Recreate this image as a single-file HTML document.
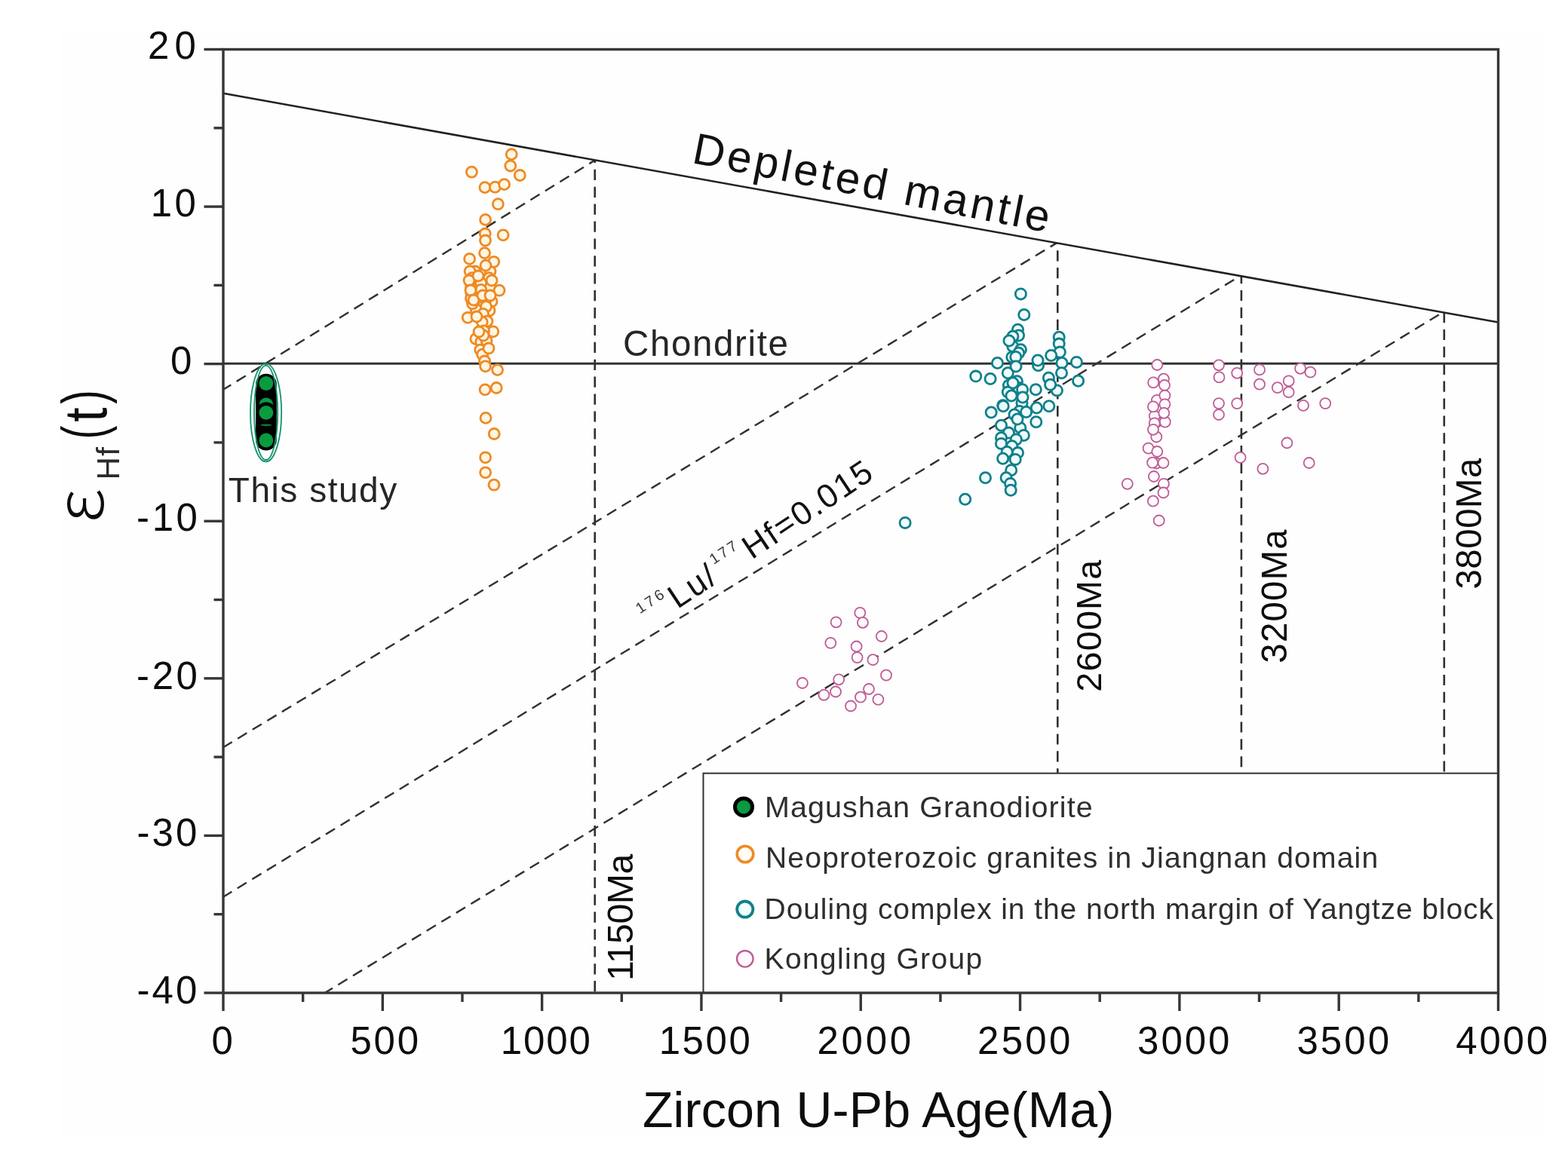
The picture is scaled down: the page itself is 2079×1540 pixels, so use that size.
<!DOCTYPE html><html><head><meta charset="utf-8"><title>Hf isotope diagram</title><style>html,body{margin:0;padding:0;background:#fff;}svg{display:block;}</style></head><body>
<svg width="2079" height="1540" viewBox="0 0 2079 1540" font-family="Liberation Sans, Arial, sans-serif">
<rect x="0" y="0" width="2079" height="1540" fill="#ffffff"/>
<rect x="81" y="42" width="1969" height="1467" fill="#fefefe"/>
<line x1="296" y1="516.8" x2="788.7" y2="212.6" stroke="#303030" stroke-width="2.4" stroke-dasharray="14.2 8.7" stroke-dashoffset="2.1"/>
<line x1="296" y1="991.3" x2="1400.5" y2="322.6" stroke="#303030" stroke-width="2.4" stroke-dasharray="14.2 8.7" stroke-dashoffset="0.5"/>
<line x1="296" y1="1189.7" x2="1644" y2="366.2" stroke="#303030" stroke-width="2.4" stroke-dasharray="14.2 8.7" stroke-dashoffset="0.9"/>
<line x1="430.6" y1="1317" x2="1912.5" y2="414.6" stroke="#303030" stroke-width="2.4" stroke-dasharray="14.2 8.7" stroke-dashoffset="2.1"/>
<line x1="788.7" y1="212.6" x2="788.7" y2="1317" stroke="#303030" stroke-width="2.6" stroke-dasharray="14.2 8.7" stroke-dashoffset="10.7"/>
<line x1="1402.3" y1="322.6" x2="1402.3" y2="1025.7" stroke="#303030" stroke-width="2.6" stroke-dasharray="14.2 8.7" stroke-dashoffset="13.3"/>
<line x1="1645.9" y1="366.3" x2="1645.9" y2="1025.7" stroke="#303030" stroke-width="2.6" stroke-dasharray="14.2 8.7" stroke-dashoffset="4.3"/>
<line x1="1914.8" y1="414.6" x2="1914.8" y2="1025.7" stroke="#303030" stroke-width="2.6" stroke-dasharray="14.2 8.7" stroke-dashoffset="0.6"/>
<line x1="296.0" y1="123.8" x2="1986.5" y2="427.5" stroke="#222" stroke-width="2.6"/>
<line x1="296.0" y1="482.3" x2="1986.5" y2="482.3" stroke="#333" stroke-width="3"/>
<circle cx="625.4" cy="228.2" r="7.0" stroke="#ee8a26" stroke-width="2.8" fill="#fff6e2"/>
<circle cx="678.2" cy="204.6" r="7.0" stroke="#ee8a26" stroke-width="2.8" fill="#fff6e2"/>
<circle cx="676.8" cy="220" r="7.0" stroke="#ee8a26" stroke-width="2.8" fill="#fff6e2"/>
<circle cx="689.3" cy="232.5" r="7.0" stroke="#ee8a26" stroke-width="2.8" fill="#fff6e2"/>
<circle cx="642.9" cy="248.6" r="7.0" stroke="#ee8a26" stroke-width="2.8" fill="#fff6e2"/>
<circle cx="656.4" cy="248.2" r="7.0" stroke="#ee8a26" stroke-width="2.8" fill="#fff6e2"/>
<circle cx="668.6" cy="244.6" r="7.0" stroke="#ee8a26" stroke-width="2.8" fill="#fff6e2"/>
<circle cx="660.4" cy="270.7" r="7.0" stroke="#ee8a26" stroke-width="2.8" fill="#fff6e2"/>
<circle cx="643.6" cy="291.4" r="7.0" stroke="#ee8a26" stroke-width="2.8" fill="#fff6e2"/>
<circle cx="667.1" cy="311.8" r="7.0" stroke="#ee8a26" stroke-width="2.8" fill="#fff6e2"/>
<circle cx="643.2" cy="310" r="7.0" stroke="#ee8a26" stroke-width="2.8" fill="#fff6e2"/>
<circle cx="643.5" cy="319" r="7.0" stroke="#ee8a26" stroke-width="2.8" fill="#fff6e2"/>
<circle cx="624" cy="375" r="7.0" stroke="#ee8a26" stroke-width="2.8" fill="#fff6e2"/>
<circle cx="625" cy="389" r="7.0" stroke="#ee8a26" stroke-width="2.8" fill="#fff6e2"/>
<circle cx="630" cy="360" r="7.0" stroke="#ee8a26" stroke-width="2.8" fill="#fff6e2"/>
<circle cx="633" cy="395" r="7.0" stroke="#ee8a26" stroke-width="2.8" fill="#fff6e2"/>
<circle cx="650" cy="360" r="7.0" stroke="#ee8a26" stroke-width="2.8" fill="#fff6e2"/>
<circle cx="650" cy="380" r="7.0" stroke="#ee8a26" stroke-width="2.8" fill="#fff6e2"/>
<circle cx="652" cy="400" r="7.0" stroke="#ee8a26" stroke-width="2.8" fill="#fff6e2"/>
<circle cx="649" cy="412" r="7.0" stroke="#ee8a26" stroke-width="2.8" fill="#fff6e2"/>
<circle cx="631" cy="410" r="7.0" stroke="#ee8a26" stroke-width="2.8" fill="#fff6e2"/>
<circle cx="628" cy="380" r="7.0" stroke="#ee8a26" stroke-width="2.8" fill="#fff6e2"/>
<circle cx="642.6" cy="335.6" r="7.0" stroke="#ee8a26" stroke-width="2.8" fill="#fff6e2"/>
<circle cx="622.6" cy="343.4" r="7.0" stroke="#ee8a26" stroke-width="2.8" fill="#fff6e2"/>
<circle cx="654.8" cy="347.3" r="7.0" stroke="#ee8a26" stroke-width="2.8" fill="#fff6e2"/>
<circle cx="644" cy="352.1" r="7.0" stroke="#ee8a26" stroke-width="2.8" fill="#fff6e2"/>
<circle cx="623.1" cy="359.9" r="7.0" stroke="#ee8a26" stroke-width="2.8" fill="#fff6e2"/>
<circle cx="626" cy="368.7" r="7.0" stroke="#ee8a26" stroke-width="2.8" fill="#fff6e2"/>
<circle cx="648.4" cy="368.7" r="7.0" stroke="#ee8a26" stroke-width="2.8" fill="#fff6e2"/>
<circle cx="637.7" cy="375.5" r="7.0" stroke="#ee8a26" stroke-width="2.8" fill="#fff6e2"/>
<circle cx="637.7" cy="384.3" r="7.0" stroke="#ee8a26" stroke-width="2.8" fill="#fff6e2"/>
<circle cx="662" cy="385.2" r="7.0" stroke="#ee8a26" stroke-width="2.8" fill="#fff6e2"/>
<circle cx="625" cy="390.1" r="7.0" stroke="#ee8a26" stroke-width="2.8" fill="#fff6e2"/>
<circle cx="644.5" cy="396.9" r="7.0" stroke="#ee8a26" stroke-width="2.8" fill="#fff6e2"/>
<circle cx="626.5" cy="402.8" r="7.0" stroke="#ee8a26" stroke-width="2.8" fill="#fff6e2"/>
<circle cx="624.5" cy="382" r="7.0" stroke="#ee8a26" stroke-width="2.8" fill="#fff6e2"/>
<circle cx="624.5" cy="396" r="7.0" stroke="#ee8a26" stroke-width="2.8" fill="#fff6e2"/>
<circle cx="644.5" cy="406.7" r="7.0" stroke="#ee8a26" stroke-width="2.8" fill="#fff6e2"/>
<circle cx="620.2" cy="421.3" r="7.0" stroke="#ee8a26" stroke-width="2.8" fill="#fff6e2"/>
<circle cx="640.6" cy="416.4" r="7.0" stroke="#ee8a26" stroke-width="2.8" fill="#fff6e2"/>
<circle cx="646" cy="426.1" r="7.0" stroke="#ee8a26" stroke-width="2.8" fill="#fff6e2"/>
<circle cx="639.2" cy="427.1" r="7.0" stroke="#ee8a26" stroke-width="2.8" fill="#fff6e2"/>
<circle cx="653.8" cy="439.8" r="7.0" stroke="#ee8a26" stroke-width="2.8" fill="#fff6e2"/>
<circle cx="641.6" cy="438.8" r="7.0" stroke="#ee8a26" stroke-width="2.8" fill="#fff6e2"/>
<circle cx="630.9" cy="449.5" r="7.0" stroke="#ee8a26" stroke-width="2.8" fill="#fff6e2"/>
<circle cx="637.7" cy="453.4" r="7.0" stroke="#ee8a26" stroke-width="2.8" fill="#fff6e2"/>
<circle cx="645" cy="452" r="7.0" stroke="#ee8a26" stroke-width="2.8" fill="#fff6e2"/>
<circle cx="636.7" cy="464.1" r="7.0" stroke="#ee8a26" stroke-width="2.8" fill="#fff6e2"/>
<circle cx="639.7" cy="470.2" r="7.0" stroke="#ee8a26" stroke-width="2.8" fill="#fff6e2"/>
<circle cx="642.6" cy="479" r="7.0" stroke="#ee8a26" stroke-width="2.8" fill="#fff6e2"/>
<circle cx="643.6" cy="485.8" r="7.0" stroke="#ee8a26" stroke-width="2.8" fill="#fff6e2"/>
<circle cx="659.6" cy="490.6" r="7.0" stroke="#ee8a26" stroke-width="2.8" fill="#fff6e2"/>
<circle cx="643.1" cy="516.9" r="7.0" stroke="#ee8a26" stroke-width="2.8" fill="#fff6e2"/>
<circle cx="658.2" cy="514.5" r="7.0" stroke="#ee8a26" stroke-width="2.8" fill="#fff6e2"/>
<circle cx="644" cy="554.4" r="7.0" stroke="#ee8a26" stroke-width="2.8" fill="#fff6e2"/>
<circle cx="655.2" cy="575.5" r="7.0" stroke="#ee8a26" stroke-width="2.8" fill="#fff6e2"/>
<circle cx="643.6" cy="606.8" r="7.0" stroke="#ee8a26" stroke-width="2.8" fill="#fff6e2"/>
<circle cx="643.6" cy="626.8" r="7.0" stroke="#ee8a26" stroke-width="2.8" fill="#fff6e2"/>
<circle cx="655" cy="643.2" r="7.0" stroke="#ee8a26" stroke-width="2.8" fill="#fff6e2"/>
<circle cx="622" cy="372" r="7.0" stroke="#ee8a26" stroke-width="2.8" fill="#fff6e2"/>
<circle cx="624" cy="385" r="7.0" stroke="#ee8a26" stroke-width="2.8" fill="#fff6e2"/>
<circle cx="628" cy="398" r="7.0" stroke="#ee8a26" stroke-width="2.8" fill="#fff6e2"/>
<circle cx="634" cy="366" r="7.0" stroke="#ee8a26" stroke-width="2.8" fill="#fff6e2"/>
<circle cx="640" cy="392" r="7.0" stroke="#ee8a26" stroke-width="2.8" fill="#fff6e2"/>
<circle cx="652" cy="372" r="7.0" stroke="#ee8a26" stroke-width="2.8" fill="#fff6e2"/>
<circle cx="650" cy="392" r="7.0" stroke="#ee8a26" stroke-width="2.8" fill="#fff6e2"/>
<circle cx="632" cy="420" r="7.0" stroke="#ee8a26" stroke-width="2.8" fill="#fff6e2"/>
<circle cx="641" cy="445" r="7.0" stroke="#ee8a26" stroke-width="2.8" fill="#fff6e2"/>
<circle cx="648" cy="462" r="7.0" stroke="#ee8a26" stroke-width="2.8" fill="#fff6e2"/>
<circle cx="635" cy="440" r="7.0" stroke="#ee8a26" stroke-width="2.8" fill="#fff6e2"/>
<circle cx="1353.4" cy="389.9" r="7.1" stroke="#10808a" stroke-width="2.8" fill="#f0fcfc"/>
<circle cx="1357.8" cy="417.5" r="7.1" stroke="#10808a" stroke-width="2.8" fill="#f0fcfc"/>
<circle cx="1349.5" cy="437.3" r="7.1" stroke="#10808a" stroke-width="2.8" fill="#f0fcfc"/>
<circle cx="1350.6" cy="445" r="7.1" stroke="#10808a" stroke-width="2.8" fill="#f0fcfc"/>
<circle cx="1342.9" cy="446.2" r="7.1" stroke="#10808a" stroke-width="2.8" fill="#f0fcfc"/>
<circle cx="1342.9" cy="459.4" r="7.1" stroke="#10808a" stroke-width="2.8" fill="#f0fcfc"/>
<circle cx="1353.4" cy="463.8" r="7.1" stroke="#10808a" stroke-width="2.8" fill="#f0fcfc"/>
<circle cx="1350.6" cy="468.2" r="7.1" stroke="#10808a" stroke-width="2.8" fill="#f0fcfc"/>
<circle cx="1341.8" cy="473.8" r="7.1" stroke="#10808a" stroke-width="2.8" fill="#f0fcfc"/>
<circle cx="1404.2" cy="447.3" r="7.1" stroke="#10808a" stroke-width="2.8" fill="#f0fcfc"/>
<circle cx="1404.2" cy="456.1" r="7.1" stroke="#10808a" stroke-width="2.8" fill="#f0fcfc"/>
<circle cx="1405.3" cy="467.1" r="7.1" stroke="#10808a" stroke-width="2.8" fill="#f0fcfc"/>
<circle cx="1393.7" cy="471.5" r="7.1" stroke="#10808a" stroke-width="2.8" fill="#f0fcfc"/>
<circle cx="1322.5" cy="481.5" r="7.1" stroke="#10808a" stroke-width="2.8" fill="#f0fcfc"/>
<circle cx="1376.6" cy="484.8" r="7.1" stroke="#10808a" stroke-width="2.8" fill="#f0fcfc"/>
<circle cx="1408" cy="481.5" r="7.1" stroke="#10808a" stroke-width="2.8" fill="#f0fcfc"/>
<circle cx="1427.4" cy="480.4" r="7.1" stroke="#10808a" stroke-width="2.8" fill="#f0fcfc"/>
<circle cx="1293.8" cy="499.1" r="7.1" stroke="#10808a" stroke-width="2.8" fill="#f0fcfc"/>
<circle cx="1313.1" cy="502.5" r="7.1" stroke="#10808a" stroke-width="2.8" fill="#f0fcfc"/>
<circle cx="1336.3" cy="494.7" r="7.1" stroke="#10808a" stroke-width="2.8" fill="#f0fcfc"/>
<circle cx="1407.5" cy="494.7" r="7.1" stroke="#10808a" stroke-width="2.8" fill="#f0fcfc"/>
<circle cx="1390.4" cy="501.3" r="7.1" stroke="#10808a" stroke-width="2.8" fill="#f0fcfc"/>
<circle cx="1429.6" cy="505.2" r="7.1" stroke="#10808a" stroke-width="2.8" fill="#f0fcfc"/>
<circle cx="1348.4" cy="505.8" r="7.1" stroke="#10808a" stroke-width="2.8" fill="#f0fcfc"/>
<circle cx="1337.4" cy="511.3" r="7.1" stroke="#10808a" stroke-width="2.8" fill="#f0fcfc"/>
<circle cx="1350.6" cy="514.6" r="7.1" stroke="#10808a" stroke-width="2.8" fill="#f0fcfc"/>
<circle cx="1373.3" cy="516.8" r="7.1" stroke="#10808a" stroke-width="2.8" fill="#f0fcfc"/>
<circle cx="1401.4" cy="517.9" r="7.1" stroke="#10808a" stroke-width="2.8" fill="#f0fcfc"/>
<circle cx="1336.3" cy="520.1" r="7.1" stroke="#10808a" stroke-width="2.8" fill="#f0fcfc"/>
<circle cx="1355.6" cy="516.8" r="7.1" stroke="#10808a" stroke-width="2.8" fill="#f0fcfc"/>
<circle cx="1392.6" cy="510.2" r="7.1" stroke="#10808a" stroke-width="2.8" fill="#f0fcfc"/>
<circle cx="1329.7" cy="537.8" r="7.1" stroke="#10808a" stroke-width="2.8" fill="#f0fcfc"/>
<circle cx="1355" cy="534.5" r="7.1" stroke="#10808a" stroke-width="2.8" fill="#f0fcfc"/>
<circle cx="1330.2" cy="538.8" r="7.1" stroke="#10808a" stroke-width="2.8" fill="#f0fcfc"/>
<circle cx="1314.2" cy="547" r="7.1" stroke="#10808a" stroke-width="2.8" fill="#f0fcfc"/>
<circle cx="1374.4" cy="541" r="7.1" stroke="#10808a" stroke-width="2.8" fill="#f0fcfc"/>
<circle cx="1390.9" cy="538.8" r="7.1" stroke="#10808a" stroke-width="2.8" fill="#f0fcfc"/>
<circle cx="1351.7" cy="545.4" r="7.1" stroke="#10808a" stroke-width="2.8" fill="#f0fcfc"/>
<circle cx="1360.6" cy="546.5" r="7.1" stroke="#10808a" stroke-width="2.8" fill="#f0fcfc"/>
<circle cx="1373.8" cy="559.7" r="7.1" stroke="#10808a" stroke-width="2.8" fill="#f0fcfc"/>
<circle cx="1327.5" cy="564.2" r="7.1" stroke="#10808a" stroke-width="2.8" fill="#f0fcfc"/>
<circle cx="1337.4" cy="574.1" r="7.1" stroke="#10808a" stroke-width="2.8" fill="#f0fcfc"/>
<circle cx="1352.8" cy="567.5" r="7.1" stroke="#10808a" stroke-width="2.8" fill="#f0fcfc"/>
<circle cx="1357.3" cy="577.4" r="7.1" stroke="#10808a" stroke-width="2.8" fill="#f0fcfc"/>
<circle cx="1347.3" cy="582.9" r="7.1" stroke="#10808a" stroke-width="2.8" fill="#f0fcfc"/>
<circle cx="1327.5" cy="580.7" r="7.1" stroke="#10808a" stroke-width="2.8" fill="#f0fcfc"/>
<circle cx="1327.5" cy="588.4" r="7.1" stroke="#10808a" stroke-width="2.8" fill="#f0fcfc"/>
<circle cx="1341.8" cy="591.7" r="7.1" stroke="#10808a" stroke-width="2.8" fill="#f0fcfc"/>
<circle cx="1335.2" cy="599.5" r="7.1" stroke="#10808a" stroke-width="2.8" fill="#f0fcfc"/>
<circle cx="1349.5" cy="600.6" r="7.1" stroke="#10808a" stroke-width="2.8" fill="#f0fcfc"/>
<circle cx="1329.7" cy="608.3" r="7.1" stroke="#10808a" stroke-width="2.8" fill="#f0fcfc"/>
<circle cx="1346.2" cy="609.4" r="7.1" stroke="#10808a" stroke-width="2.8" fill="#f0fcfc"/>
<circle cx="1340.7" cy="623.8" r="7.1" stroke="#10808a" stroke-width="2.8" fill="#f0fcfc"/>
<circle cx="1334.1" cy="633.7" r="7.1" stroke="#10808a" stroke-width="2.8" fill="#f0fcfc"/>
<circle cx="1339.6" cy="641.4" r="7.1" stroke="#10808a" stroke-width="2.8" fill="#f0fcfc"/>
<circle cx="1340.2" cy="650.2" r="7.1" stroke="#10808a" stroke-width="2.8" fill="#f0fcfc"/>
<circle cx="1306.5" cy="633.7" r="7.1" stroke="#10808a" stroke-width="2.8" fill="#f0fcfc"/>
<circle cx="1279.7" cy="662.2" r="7.1" stroke="#10808a" stroke-width="2.8" fill="#f0fcfc"/>
<circle cx="1200.1" cy="693.4" r="7.1" stroke="#10808a" stroke-width="2.8" fill="#f0fcfc"/>
<circle cx="1343" cy="508" r="7.1" stroke="#10808a" stroke-width="2.8" fill="#f0fcfc"/>
<circle cx="1341" cy="525" r="7.1" stroke="#10808a" stroke-width="2.8" fill="#f0fcfc"/>
<circle cx="1356" cy="527" r="7.1" stroke="#10808a" stroke-width="2.8" fill="#f0fcfc"/>
<circle cx="1345" cy="550" r="7.1" stroke="#10808a" stroke-width="2.8" fill="#f0fcfc"/>
<circle cx="1349" cy="556" r="7.1" stroke="#10808a" stroke-width="2.8" fill="#f0fcfc"/>
<circle cx="1376" cy="478" r="7.1" stroke="#10808a" stroke-width="2.8" fill="#f0fcfc"/>
<circle cx="1346.8" cy="473.5" r="7.1" stroke="#10808a" stroke-width="2.8" fill="#f0fcfc"/>
<circle cx="1338" cy="452" r="7.1" stroke="#10808a" stroke-width="2.8" fill="#f0fcfc"/>
<circle cx="1347" cy="486" r="7.1" stroke="#10808a" stroke-width="2.8" fill="#f0fcfc"/>
<circle cx="1534.3" cy="484" r="7.0" stroke="#bc5e96" stroke-width="1.8" fill="#fffafd"/>
<circle cx="1529.2" cy="507.4" r="7.0" stroke="#bc5e96" stroke-width="1.8" fill="#fffafd"/>
<circle cx="1542.9" cy="502.7" r="7.0" stroke="#bc5e96" stroke-width="1.8" fill="#fffafd"/>
<circle cx="1533.9" cy="530.8" r="7.0" stroke="#bc5e96" stroke-width="1.8" fill="#fffafd"/>
<circle cx="1544.4" cy="524.6" r="7.0" stroke="#bc5e96" stroke-width="1.8" fill="#fffafd"/>
<circle cx="1544.4" cy="536.3" r="7.0" stroke="#bc5e96" stroke-width="1.8" fill="#fffafd"/>
<circle cx="1533.9" cy="559.6" r="7.0" stroke="#bc5e96" stroke-width="1.8" fill="#fffafd"/>
<circle cx="1544.8" cy="559.6" r="7.0" stroke="#bc5e96" stroke-width="1.8" fill="#fffafd"/>
<circle cx="1530.8" cy="551.8" r="7.0" stroke="#bc5e96" stroke-width="1.8" fill="#fffafd"/>
<circle cx="1533.3" cy="579.5" r="7.0" stroke="#bc5e96" stroke-width="1.8" fill="#fffafd"/>
<circle cx="1522.6" cy="594.6" r="7.0" stroke="#bc5e96" stroke-width="1.8" fill="#fffafd"/>
<circle cx="1534.3" cy="599" r="7.0" stroke="#bc5e96" stroke-width="1.8" fill="#fffafd"/>
<circle cx="1533.3" cy="614.5" r="7.0" stroke="#bc5e96" stroke-width="1.8" fill="#fffafd"/>
<circle cx="1542.5" cy="614" r="7.0" stroke="#bc5e96" stroke-width="1.8" fill="#fffafd"/>
<circle cx="1529.9" cy="632" r="7.0" stroke="#bc5e96" stroke-width="1.8" fill="#fffafd"/>
<circle cx="1543" cy="641.8" r="7.0" stroke="#bc5e96" stroke-width="1.8" fill="#fffafd"/>
<circle cx="1494.8" cy="641.8" r="7.0" stroke="#bc5e96" stroke-width="1.8" fill="#fffafd"/>
<circle cx="1542.5" cy="653.5" r="7.0" stroke="#bc5e96" stroke-width="1.8" fill="#fffafd"/>
<circle cx="1528.9" cy="664.7" r="7.0" stroke="#bc5e96" stroke-width="1.8" fill="#fffafd"/>
<circle cx="1536.7" cy="690.5" r="7.0" stroke="#bc5e96" stroke-width="1.8" fill="#fffafd"/>
<circle cx="1616" cy="484.3" r="7.0" stroke="#bc5e96" stroke-width="1.8" fill="#fffafd"/>
<circle cx="1616.5" cy="500.4" r="7.0" stroke="#bc5e96" stroke-width="1.8" fill="#fffafd"/>
<circle cx="1640.2" cy="494.8" r="7.0" stroke="#bc5e96" stroke-width="1.8" fill="#fffafd"/>
<circle cx="1670" cy="490.4" r="7.0" stroke="#bc5e96" stroke-width="1.8" fill="#fffafd"/>
<circle cx="1670" cy="509.7" r="7.0" stroke="#bc5e96" stroke-width="1.8" fill="#fffafd"/>
<circle cx="1693.8" cy="514.2" r="7.0" stroke="#bc5e96" stroke-width="1.8" fill="#fffafd"/>
<circle cx="1708.7" cy="505.3" r="7.0" stroke="#bc5e96" stroke-width="1.8" fill="#fffafd"/>
<circle cx="1708.7" cy="520.2" r="7.0" stroke="#bc5e96" stroke-width="1.8" fill="#fffafd"/>
<circle cx="1724.1" cy="488.8" r="7.0" stroke="#bc5e96" stroke-width="1.8" fill="#fffafd"/>
<circle cx="1737.4" cy="493.7" r="7.0" stroke="#bc5e96" stroke-width="1.8" fill="#fffafd"/>
<circle cx="1616" cy="535.1" r="7.0" stroke="#bc5e96" stroke-width="1.8" fill="#fffafd"/>
<circle cx="1616" cy="550" r="7.0" stroke="#bc5e96" stroke-width="1.8" fill="#fffafd"/>
<circle cx="1640.2" cy="535.1" r="7.0" stroke="#bc5e96" stroke-width="1.8" fill="#fffafd"/>
<circle cx="1728" cy="537.9" r="7.0" stroke="#bc5e96" stroke-width="1.8" fill="#fffafd"/>
<circle cx="1757.2" cy="535.1" r="7.0" stroke="#bc5e96" stroke-width="1.8" fill="#fffafd"/>
<circle cx="1706.4" cy="587.5" r="7.0" stroke="#bc5e96" stroke-width="1.8" fill="#fffafd"/>
<circle cx="1644.6" cy="606.9" r="7.0" stroke="#bc5e96" stroke-width="1.8" fill="#fffafd"/>
<circle cx="1674.4" cy="621.8" r="7.0" stroke="#bc5e96" stroke-width="1.8" fill="#fffafd"/>
<circle cx="1735.7" cy="614" r="7.0" stroke="#bc5e96" stroke-width="1.8" fill="#fffafd"/>
<circle cx="1108.6" cy="825.3" r="7.0" stroke="#bc5e96" stroke-width="1.8" fill="#fffafd"/>
<circle cx="1140.3" cy="812.9" r="7.0" stroke="#bc5e96" stroke-width="1.8" fill="#fffafd"/>
<circle cx="1143.9" cy="825.8" r="7.0" stroke="#bc5e96" stroke-width="1.8" fill="#fffafd"/>
<circle cx="1101.3" cy="852.9" r="7.0" stroke="#bc5e96" stroke-width="1.8" fill="#fffafd"/>
<circle cx="1168.8" cy="844" r="7.0" stroke="#bc5e96" stroke-width="1.8" fill="#fffafd"/>
<circle cx="1135.6" cy="857.5" r="7.0" stroke="#bc5e96" stroke-width="1.8" fill="#fffafd"/>
<circle cx="1136.6" cy="872.1" r="7.0" stroke="#bc5e96" stroke-width="1.8" fill="#fffafd"/>
<circle cx="1157.4" cy="875.2" r="7.0" stroke="#bc5e96" stroke-width="1.8" fill="#fffafd"/>
<circle cx="1063.9" cy="906" r="7.0" stroke="#bc5e96" stroke-width="1.8" fill="#fffafd"/>
<circle cx="1112.2" cy="901.3" r="7.0" stroke="#bc5e96" stroke-width="1.8" fill="#fffafd"/>
<circle cx="1175" cy="895.6" r="7.0" stroke="#bc5e96" stroke-width="1.8" fill="#fffafd"/>
<circle cx="1092.4" cy="921.8" r="7.0" stroke="#bc5e96" stroke-width="1.8" fill="#fffafd"/>
<circle cx="1108" cy="917.5" r="7.0" stroke="#bc5e96" stroke-width="1.8" fill="#fffafd"/>
<circle cx="1152" cy="914" r="7.0" stroke="#bc5e96" stroke-width="1.8" fill="#fffafd"/>
<circle cx="1141" cy="924.7" r="7.0" stroke="#bc5e96" stroke-width="1.8" fill="#fffafd"/>
<circle cx="1164.4" cy="927.9" r="7.0" stroke="#bc5e96" stroke-width="1.8" fill="#fffafd"/>
<circle cx="1128" cy="936.5" r="7.0" stroke="#bc5e96" stroke-width="1.8" fill="#fffafd"/>
<circle cx="1544" cy="511" r="7.0" stroke="#bc5e96" stroke-width="1.8" fill="#fffafd"/>
<circle cx="1529" cy="539.4" r="7.0" stroke="#bc5e96" stroke-width="1.8" fill="#fffafd"/>
<circle cx="1543.3" cy="547.8" r="7.0" stroke="#bc5e96" stroke-width="1.8" fill="#fffafd"/>
<circle cx="1530.7" cy="561.4" r="7.0" stroke="#bc5e96" stroke-width="1.8" fill="#fffafd"/>
<circle cx="1529" cy="569.8" r="7.0" stroke="#bc5e96" stroke-width="1.8" fill="#fffafd"/>
<circle cx="1528.1" cy="613.7" r="7.0" stroke="#bc5e96" stroke-width="1.8" fill="#fffafd"/>
<rect x="339.0" y="495.8" width="27.8" height="101.8" rx="13.9" ry="13.9" fill="#000"/>
<circle cx="352.9" cy="536.8" r="9.3" fill="#0a9a40"/>
<circle cx="352.9" cy="547.4" r="13.9" fill="#000"/>
<circle cx="352.9" cy="508.5" r="9.4" fill="#0a9a40"/>
<circle cx="352.9" cy="547.4" r="9.4" fill="#0a9a40"/>
<circle cx="352.9" cy="584" r="9.4" fill="#0a9a40"/>
<ellipse cx="352.9" cy="563.8" rx="7.5" ry="1.4" fill="#0a9a40" opacity="0.8"/>
<ellipse cx="352.6" cy="547.4" rx="20.6" ry="65.0" fill="none" stroke="#14936f" stroke-width="1.8"/>
<ellipse cx="352.6" cy="547.4" rx="15.6" ry="62.6" fill="none" stroke="#14936f" stroke-width="1.8"/>
<rect x="932.5" y="1025.7" width="1054.0" height="291.29999999999995" fill="#fff" stroke="#333" stroke-width="2"/>
<circle cx="986" cy="1070.4" r="11.5" stroke="#000" stroke-width="5" fill="#0a9a40"/>
<circle cx="988" cy="1133" r="10.8" stroke="#ee8a26" stroke-width="3.6" fill="#fffdf6"/>
<circle cx="987.8" cy="1206.1" r="10.6" stroke="#10808a" stroke-width="3.8" fill="#f2ffff"/>
<circle cx="987.8" cy="1271.8" r="10.8" stroke="#bc5e96" stroke-width="2.4" fill="#fff8fc"/>
<text x="1013.9" y="1083.5" font-size="39.5" letter-spacing="1.105" fill="#2e2e2e" >Magushan Granodiorite</text>
<text x="1015" y="1150.7" font-size="39" letter-spacing="1.195" fill="#2e2e2e" >Neoproterozoic granites in Jiangnan domain</text>
<text x="1013.6" y="1218.8" font-size="39" letter-spacing="0.91" fill="#2e2e2e" >Douling complex in the north margin of Yangtze block</text>
<text x="1013.6" y="1285.3" font-size="39" letter-spacing="1.354" fill="#2e2e2e" >Kongling Group</text>
<rect x="296.0" y="65.5" width="1690.5" height="1251.5" fill="none" stroke="#363634" stroke-width="3.4"/>
<line x1="270.5" y1="65.50" x2="296.0" y2="65.50" stroke="#363634" stroke-width="3.4"/>
<line x1="270.5" y1="274.08" x2="296.0" y2="274.08" stroke="#363634" stroke-width="3.4"/>
<line x1="270.5" y1="482.67" x2="296.0" y2="482.67" stroke="#363634" stroke-width="3.4"/>
<line x1="270.5" y1="691.25" x2="296.0" y2="691.25" stroke="#363634" stroke-width="3.4"/>
<line x1="270.5" y1="899.83" x2="296.0" y2="899.83" stroke="#363634" stroke-width="3.4"/>
<line x1="270.5" y1="1108.42" x2="296.0" y2="1108.42" stroke="#363634" stroke-width="3.4"/>
<line x1="270.5" y1="1317.00" x2="296.0" y2="1317.00" stroke="#363634" stroke-width="3.4"/>
<line x1="283.5" y1="169.79" x2="296.0" y2="169.79" stroke="#363634" stroke-width="3.4"/>
<line x1="283.5" y1="378.38" x2="296.0" y2="378.38" stroke="#363634" stroke-width="3.4"/>
<line x1="283.5" y1="586.96" x2="296.0" y2="586.96" stroke="#363634" stroke-width="3.4"/>
<line x1="283.5" y1="795.54" x2="296.0" y2="795.54" stroke="#363634" stroke-width="3.4"/>
<line x1="283.5" y1="1004.12" x2="296.0" y2="1004.12" stroke="#363634" stroke-width="3.4"/>
<line x1="283.5" y1="1212.71" x2="296.0" y2="1212.71" stroke="#363634" stroke-width="3.4"/>
<line x1="296.00" y1="1317.0" x2="296.00" y2="1341" stroke="#363634" stroke-width="3.4"/>
<line x1="507.31" y1="1317.0" x2="507.31" y2="1341" stroke="#363634" stroke-width="3.4"/>
<line x1="718.62" y1="1317.0" x2="718.62" y2="1341" stroke="#363634" stroke-width="3.4"/>
<line x1="929.94" y1="1317.0" x2="929.94" y2="1341" stroke="#363634" stroke-width="3.4"/>
<line x1="1141.25" y1="1317.0" x2="1141.25" y2="1341" stroke="#363634" stroke-width="3.4"/>
<line x1="1352.56" y1="1317.0" x2="1352.56" y2="1341" stroke="#363634" stroke-width="3.4"/>
<line x1="1563.88" y1="1317.0" x2="1563.88" y2="1341" stroke="#363634" stroke-width="3.4"/>
<line x1="1775.19" y1="1317.0" x2="1775.19" y2="1341" stroke="#363634" stroke-width="3.4"/>
<line x1="1986.50" y1="1317.0" x2="1986.50" y2="1341" stroke="#363634" stroke-width="3.4"/>
<line x1="401.66" y1="1317.0" x2="401.66" y2="1329" stroke="#363634" stroke-width="3.4"/>
<line x1="612.97" y1="1317.0" x2="612.97" y2="1329" stroke="#363634" stroke-width="3.4"/>
<line x1="824.28" y1="1317.0" x2="824.28" y2="1329" stroke="#363634" stroke-width="3.4"/>
<line x1="1035.59" y1="1317.0" x2="1035.59" y2="1329" stroke="#363634" stroke-width="3.4"/>
<line x1="1246.91" y1="1317.0" x2="1246.91" y2="1329" stroke="#363634" stroke-width="3.4"/>
<line x1="1458.22" y1="1317.0" x2="1458.22" y2="1329" stroke="#363634" stroke-width="3.4"/>
<line x1="1669.53" y1="1317.0" x2="1669.53" y2="1329" stroke="#363634" stroke-width="3.4"/>
<line x1="1880.84" y1="1317.0" x2="1880.84" y2="1329" stroke="#363634" stroke-width="3.4"/>
<text x="196" y="77.8" font-size="51" letter-spacing="7.2" fill="#0d0d0d" >20</text>
<text x="199.7" y="287.1" font-size="51" letter-spacing="3.5" fill="#0d0d0d" >10</text>
<text x="225.9" y="496.40000000000003" font-size="51" letter-spacing="0" fill="#0d0d0d" >0</text>
<text x="181.1" y="704.4" font-size="51" letter-spacing="3.55" fill="#0d0d0d" >-10</text>
<text x="181.1" y="913.6999999999999" font-size="51" letter-spacing="3.55" fill="#0d0d0d" >-20</text>
<text x="181.5" y="1121.5" font-size="51" letter-spacing="3.1" fill="#0d0d0d" >-30</text>
<text x="181.5" y="1331.0" font-size="51" letter-spacing="3.1" fill="#0d0d0d" >-40</text>
<text x="280.5" y="1397.8" font-size="51" letter-spacing="0" fill="#0d0d0d" >0</text>
<text x="464.5" y="1397.8" font-size="51" letter-spacing="2.75" fill="#0d0d0d" >500</text>
<text x="663.7" y="1397.8" font-size="51" letter-spacing="1.867" fill="#0d0d0d" >1000</text>
<text x="873.7" y="1397.8" font-size="51" letter-spacing="2.567" fill="#0d0d0d" >1500</text>
<text x="1083.5" y="1397.8" font-size="51" letter-spacing="3.733" fill="#0d0d0d" >2000</text>
<text x="1296" y="1397.8" font-size="51" letter-spacing="3.3" fill="#0d0d0d" >2500</text>
<text x="1508.1" y="1397.8" font-size="51" letter-spacing="2.967" fill="#0d0d0d" >3000</text>
<text x="1719.4" y="1397.8" font-size="51" letter-spacing="3.1" fill="#0d0d0d" >3500</text>
<text x="1930.3" y="1397.8" font-size="51" letter-spacing="2.767" fill="#0d0d0d" >4000</text>
<text x="851.9" y="1495.4" font-size="66.4" letter-spacing="0.111" fill="#0d0d0d" >Zircon U-Pb Age(Ma)</text>
<g transform="translate(136.6,688.6) rotate(-90) scale(1.0743,1)"><text x="-5" y="0" font-size="87.5" font-family="Noto Sans CJK SC" font-weight="300" fill="#0d0d0d">ε</text></g>
<g transform="translate(158,633.6) rotate(-90)"><text x="-3" y="0" font-size="42" letter-spacing="1.6" fill="#2a2a2a">Hf</text></g>
<g transform="translate(138.4,579.1) rotate(-90) scale(0.6667,1)"><text x="-5" y="0" font-size="80" fill="#0d0d0d">(</text></g>
<g transform="translate(141.3,558.9) rotate(-90) scale(0.8667,1)"><text x="-1" y="0" font-size="80" fill="#0d0d0d">t</text></g>
<g transform="translate(138.4,535.0) rotate(-90) scale(0.6952,1)"><text x="-1" y="0" font-size="80" fill="#0d0d0d">)</text></g>
<text x="826" y="471.7" font-size="47.5" letter-spacing="1.613" fill="#262626" >Chondrite</text>
<text x="302.8" y="666" font-size="46" letter-spacing="1.533" fill="#262626" >This study</text>
<g transform="translate(920.80,216.70) rotate(11.1)"><text x="-5" y="0" font-size="58.5" letter-spacing="3.929" fill="#111">Depleted mantle</text></g>
<g transform="translate(838.6,1297) rotate(-90)"><text x="-4" y="0" font-size="48.3" letter-spacing="-0.54" fill="#0d0d0d">1150Ma</text></g>
<g transform="translate(1460.4,915.8) rotate(-90)"><text x="-2" y="0" font-size="46.7" letter-spacing="1.26" fill="#0d0d0d">2600Ma</text></g>
<g transform="translate(1706.4,877.7) rotate(-90)"><text x="-2" y="0" font-size="47.3" letter-spacing="1.28" fill="#0d0d0d">3200Ma</text></g>
<g transform="translate(1964.4,779.6) rotate(-90)"><text x="-2" y="0" font-size="47.3" letter-spacing="0.62" fill="#0d0d0d">3800Ma</text></g>
<g transform="translate(901,806.6) rotate(-33.7)" fill="#111"><text x="-48" y="-22.5" font-size="20" letter-spacing="3.5" fill="#3a3a3a">176</text><text x="-3.2" y="0" font-size="44" letter-spacing="2.4">Lu/</text><text x="69.5" y="-22.5" font-size="20" letter-spacing="3" fill="#3a3a3a">177</text><text x="115.2" y="0" font-size="44" letter-spacing="2.4">Hf=0.015</text></g>
</svg></body></html>
